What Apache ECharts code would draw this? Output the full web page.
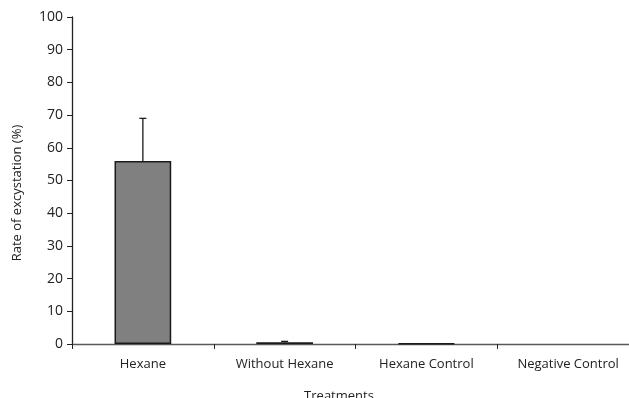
<!DOCTYPE html>
<html><head><meta charset="utf-8">
<script src="https://cdn.jsdelivr.net/npm/echarts@6/dist/echarts.min.js"></script>
<style>html,body{margin:0;padding:0;background:#fff}#c{width:629px;height:398px}</style>
</head><body><div id="c"></div>
<script>
const categories = ['Hexane', 'Without Hexane', 'Hexane Control', 'Negative Control'];
const rates = [56, 0.5, 0.2, 0];
const errors = [13, 0.3, 0, 0];
const yTicks = [0, 10, 20, 30, 40, 50, 60, 70, 80, 90, 100];
const xTitle = 'Treatments';
const yTitle = 'Rate of excystation (%)';

const font = '"Open Sans", "Liberation Sans", sans-serif';
const chart = echarts.init(document.getElementById('c'));
chart.setOption({
  animation: false,
  grid: { left: 72, top: 17, width: 567, height: 327, outerBoundsMode: 'none', containLabel: false },
  graphic: [
    { type: 'text', x: 17, y: 193, rotation: Math.PI / 2,
      style: { text: yTitle, fill: '#222', font: '13px ' + font, align: 'center', verticalAlign: 'middle' } },
    { type: 'text', x: 339, y: 396,
      style: { text: xTitle, fill: '#222', font: '13px ' + font, align: 'center', verticalAlign: 'middle' } }
  ],
  xAxis: {
    type: 'category', data: categories,
    axisLine: { lineStyle: { color: '#595959', width: 1.3 } },
    axisTick: { show: true, length: 5, lineStyle: { color: '#222' } },
    axisLabel: { color: '#222', fontSize: 13, fontFamily: font, margin: 14 }
  },
  yAxis: {
    type: 'value', min: yTicks[0], max: yTicks[yTicks.length - 1], interval: 10,
    splitLine: { show: false },
    axisLine: { show: true, lineStyle: { color: '#222', width: 1.3 } },
    axisTick: { show: true, length: 5, lineStyle: { color: '#222' } },
    axisLabel: { color: '#222', fontSize: 14, fontFamily: font, margin: 9 }
  },
  series: [
    {
      type: 'bar', data: rates.map(v => v === 0 ? { value: v, itemStyle: { borderWidth: 0 } } : v), barWidth: '40%',
      itemStyle: { color: '#808080', borderColor: '#1a1a1a', borderWidth: 1.5 }
    },
    {
      type: 'custom', data: rates.map((v, i) => [i, v, v + errors[i]]),
      z: 5,
      renderItem: function (params, api) {
        if (api.value(2) <= api.value(1)) return null;
        const base = api.coord([api.value(0), api.value(1)]);
        const top = api.coord([api.value(0), api.value(2)]);
        return {
          type: 'group', children: [
            { type: 'line', shape: { x1: base[0], y1: base[1], x2: top[0], y2: top[1] }, style: { stroke: '#1a1a1a', lineWidth: 1.3 } },
            { type: 'line', shape: { x1: base[0] - 3.5, y1: top[1], x2: base[0] + 3.5, y2: top[1] }, style: { stroke: '#1a1a1a', lineWidth: 1.3 } }
          ]
        };
      }
    }
  ]
});
</script></body></html>
